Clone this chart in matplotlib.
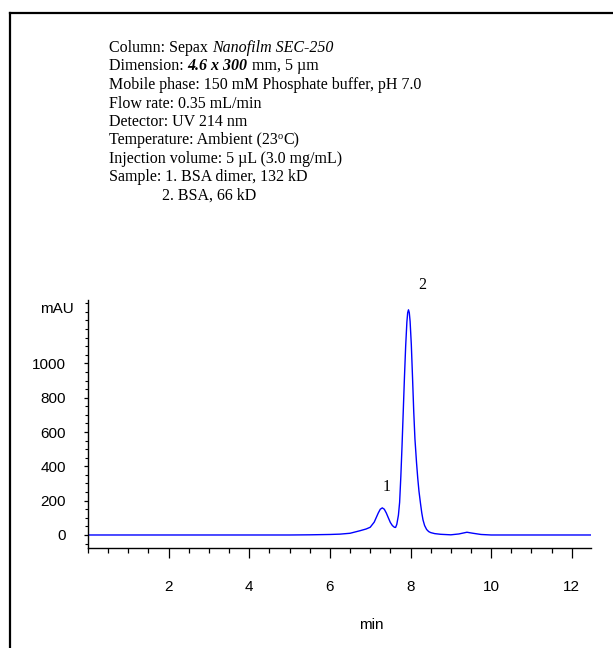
import numpy as np
import matplotlib
matplotlib.use('Agg')
import matplotlib.pyplot as plt
from matplotlib.lines import Line2D
from matplotlib.ticker import MultipleLocator
import matplotlib.transforms as mtransforms

# Chromatogram (time in min, absorbance in mAU)
time_min = [0.0, 3.0, 5.0, 5.5, 6.0, 6.25, 6.5, 6.75, 6.9,
            7.0, 7.1, 7.2, 7.25, 7.3, 7.35, 7.4, 7.45, 7.5, 7.55, 7.6, 7.63,
            7.66, 7.7, 7.73, 7.76, 7.79, 7.82, 7.85, 7.88, 7.91, 7.93, 7.95,
            7.97, 7.99, 8.02, 8.05, 8.08, 8.11, 8.15, 8.18, 8.21, 8.25, 8.28,
            8.31, 8.35, 8.4, 8.45, 8.5, 8.6, 8.75, 9.0, 9.2, 9.4, 9.55, 9.75,
            10.0, 12.47]
signal_mau = [0, 0, 0, 1, 3, 5, 10, 25, 35,
              45, 75, 128, 150, 158, 150, 128, 100, 73, 55, 45, 44,
              62, 115, 190, 340, 520, 720, 920, 1100, 1240, 1295, 1312,
              1295, 1245, 1110, 920, 720, 560, 420, 330, 255, 180, 128,
              88, 55, 32, 20, 14, 8, 4, 1, 6, 16, 10, 3,
              0, 0]

peak_labels = ['1', '2']
peak_pos = [(7.41, 280), (8.28, 1456)]

y_ticks = [0, 200, 400, 600, 800, 1000]
x_ticks = [2, 4, 6, 8, 10, 12]

serif = 'Liberation Serif'
sans = 'Liberation Sans'

fig = plt.figure(figsize=(6.13, 6.48), dpi=100)
ax = fig.add_axes([0.1436, 0.1548, 0.82, 0.3822])

ax.plot(time_min, signal_mau, color='#0000ff', linewidth=1.0)
ax.set_xlim(0, 12.47)
ax.set_ylim(-74, 1369)

for side in ['top', 'right']:
    ax.spines[side].set_visible(False)
for side in ['left', 'bottom']:
    ax.spines[side].set_linewidth(1.0)

ax.set_xticks(x_ticks)
ax.set_yticks(y_ticks)
ax.xaxis.set_minor_locator(MultipleLocator(0.5))
ax.yaxis.set_minor_locator(MultipleLocator(50))
ax.tick_params(axis='x', which='major', length=7, width=0.9, pad=16, labelsize=11)
ax.tick_params(axis='x', which='minor', length=3.6, width=0.9)
ax.tick_params(axis='y', which='major', length=3, width=0.9, pad=13, labelsize=11)
ax.tick_params(axis='y', which='minor', length=2.5, width=0.8)
for lbl in ax.get_xticklabels() + ax.get_yticklabels():
    lbl.set_fontfamily(sans)

ax.set_xlabel('min', fontfamily=sans, fontsize=11, va='center')
ax.xaxis.set_label_coords(0.563, -0.312)

trans = mtransforms.blended_transform_factory(ax.transAxes, ax.transData)
ax.text(-0.062, 1315, 'mAU', transform=trans, ha='center', va='center',
        fontfamily=sans, fontsize=11)

for lab, (px, py) in zip(peak_labels, peak_pos):
    ax.text(px, py, lab, ha='center', va='center', fontfamily=serif,
            fontsize=11.5, clip_on=False)

# method description, drawn piece by piece to mix styles
renderer = fig.canvas.get_renderer()
fs = 11.5

def write_line(x_px, y_px, pieces):
    x = x_px
    for txt, style, weight, dy, size in pieces:
        t = fig.text(x / 613, 1 - (y_px - dy) / 648, txt, fontfamily=serif,
                     fontsize=size, fontstyle=style, fontweight=weight,
                     va='center', ha='left')
        bb = t.get_window_extent(renderer=renderer)
        x += bb.width

N = 'normal'
lines = [
    (109, 48, [('Column: Sepax ', N, N, 0, fs), ('Nanofilm SEC-250', 'italic', N, 0, fs)]),
    (109, 66.5, [('Dimension: ', N, N, 0, fs), ('4.6 x 300', 'italic', 'bold', 0, fs),
                 (' mm, 5 \u00b5m', N, N, 0, fs)]),
    (109, 85, [('Mobile phase: 150 mM Phosphate buffer, pH 7.0', N, N, 0, fs)]),
    (109, 103.5, [('Flow rate: 0.35 mL/min', N, N, 0, fs)]),
    (109, 122, [('Detector: UV 214 nm', N, N, 0, fs)]),
    (109, 140.5, [('Temperature: Ambient (23', N, N, 0, fs), ('o', N, N, 4, 7.5),
                  ('C)', N, N, 0, fs)]),
    (109, 159, [('Injection volume: 5 \u00b5L (3.0 mg/mL)', N, N, 0, fs)]),
    (109, 177.5, [('Sample: 1. BSA dimer, 132 kD', N, N, 0, fs)]),
    (161.5, 196, [('2. BSA, 66 kD', N, N, 0, fs)]),
]
for x0, y0, pieces in lines:
    write_line(x0, y0, pieces)

# partial frame around the figure (top and left)
fig.add_artist(Line2D([10 / 613, 1.0], [1 - 13 / 648, 1 - 13 / 648],
                      transform=fig.transFigure, color='black', linewidth=1.6))
fig.add_artist(Line2D([10 / 613, 10 / 613], [0.0, 1 - 13 / 648],
                      transform=fig.transFigure, color='black', linewidth=1.6))

fig.savefig('out.png', dpi=100)
